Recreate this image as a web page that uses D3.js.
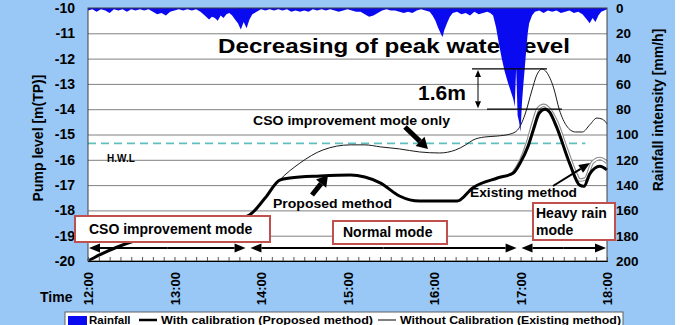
<!DOCTYPE html>
<html>
<head>
<meta charset="utf-8">
<script src="https://cdn.jsdelivr.net/npm/d3@7"></script>
<style>
  body { margin: 0; background: #99c8f6; }
  svg { display: block; font-family: "Liberation Sans", Arial, sans-serif; font-weight: bold; }
</style>
</head>
<body>
<div id="chart"></div>
<script>
// times are minutes after 12:00
const levelTicks = [-10, -11, -12, -13, -14, -15, -16, -17, -18, -19, -20];
const rainTicks = [0, 20, 40, 60, 80, 100, 120, 140, 160, 180, 200];
const timeTicks = [0, 60, 120, 180, 240, 300, 360];
const timeLabels = ["12:00", "13:00", "14:00", "15:00", "16:00", "17:00", "18:00"];

const rainMin = [
  0, 3, 6, 9, 12, 15, 18, 21, 24, 27,
  30, 33, 36, 39, 42, 45, 48, 51, 54, 57,
  60, 63, 66, 69, 72, 75, 78, 81, 84, 86,
  88, 90, 92, 94, 96, 98, 100, 102, 104, 106,
  108, 110, 112, 114, 117, 120, 123, 126, 129, 132,
  135, 138, 141, 144, 147, 150, 153, 156, 159, 162,
  165, 168, 171, 174, 177, 180, 183, 186, 189, 192,
  195, 198, 201, 204, 207, 210, 213, 216, 219, 222,
  225, 228, 231, 234, 237, 239, 241, 243, 245, 246,
  247, 249, 251, 253, 256, 259, 262, 265, 268, 271,
  274, 277, 279, 281, 283, 285, 287, 289, 291, 293,
  295, 296, 297, 298, 299, 300, 301, 302, 303, 304,
  305, 306, 308, 310, 313, 316, 319, 322, 325, 328,
  331, 334, 337, 340, 343, 346, 348, 350, 352, 354,
  356, 358, 360];
const rainValue = [
  2, 1, 3, 1, 2, 4, 1, 2, 1, 3,
  1, 2, 1, 2, 1, 3, 5, 4, 6, 3,
  2, 1, 2, 1, 2, 1, 3, 6, 9, 7,
  8, 10, 6, 8, 5, 4, 6, 9, 12, 17,
  11, 16, 9, 5, 3, 1, 2, 1, 2, 1,
  2, 1, 3, 2, 3, 2, 3, 1, 2, 1,
  2, 1, 2, 3, 2, 1, 2, 3, 3, 5,
  7, 6, 4, 2, 1, 2, 2, 3, 4, 3,
  4, 2, 1, 2, 3, 6, 10, 16, 21, 23,
  18, 12, 7, 4, 3, 5, 4, 6, 3, 5,
  4, 3, 4, 6, 15, 28, 40, 50, 58, 65,
  72, 78, 47, 85, 90, 98, 75, 60, 47, 33,
  20, 12, 6, 3, 2, 4, 2, 3, 2, 4,
  3, 2, 4, 3, 5, 9, 12, 8, 11, 6,
  3, 2, 1];

// with calibration (proposed method)
const proposedMin = [0, 8, 34, 78, 112, 123, 133, 140, 161, 182, 192, 203, 216, 230, 256, 267,
  284, 295, 300, 305, 309, 313, 317, 320, 325, 334, 341, 344, 348, 355, 360];
const proposedLevel = [-20, -19.76, -19.17, -18.7, -18.18, -17.5, -16.8, -16.72, -16.64, -16.6,
  -16.68, -16.92, -17.43, -17.63, -17.63, -17.1, -16.72, -16.52, -16.1, -15.5, -14.8, -14.15,
  -14.0, -14.1, -14.7, -16.13, -17.0, -17.05, -16.56, -16.25, -16.4];

// CSO improvement mode only
const csoMin = [0, 8, 34, 78, 112, 123, 133, 147, 163, 182, 192, 203, 216, 230, 244, 255, 262,
  267, 275, 284, 293, 298, 303, 308, 311, 315, 318, 323, 327, 332, 338, 343, 348, 353, 357, 360];
const csoLevel = [-20, -19.76, -19.17, -18.7, -18.18, -17.5, -16.8, -16.13, -15.61, -15.41,
  -15.41, -15.49, -15.57, -15.69, -15.73, -15.61, -15.41, -15.22, -15.1, -15.06, -14.98, -14.82,
  -14.23, -13.24, -12.69, -12.41, -12.53, -13.16, -14.03, -14.66, -14.9, -14.9, -14.62, -14.35,
  -14.4, -14.58];

// existing method (only the part that leaves the proposed line)
const existingMin = [295, 300, 305, 309, 312, 316, 320, 325, 332, 338, 341, 345, 350, 355, 360];
const existingLevel = [-16.52, -16.05, -15.3, -14.5, -14.0, -13.85, -14.0, -14.5, -15.6, -16.5,
  -16.8, -16.75, -16.1, -15.95, -16.1];

const hwl = -15.35;
const modeNames = ["CSO improvement mode", "Normal mode", "Heavy rain mode"];
const modeStart = [0, 112, 300];
const modeEnd = [110, 298, 360];
const legendLabels = ["Rainfall", "With calibration (Proposed method)", "Without Calibration (Existing method)"];

let width = 680, height = 325;
const plot = { left: 88, right: 607, top: 8, bottom: 261 };

const svg = d3.select("#chart")
  .append("svg")
  .attr("width", width)
  .attr("height", height)
  .attr("viewBox", [0, 0, width, height]);

const x = d3.scaleLinear().domain([0, 360]).range([plot.left, plot.right]);
const y = d3.scaleLinear().domain([-20, -10]).range([plot.bottom, plot.top]);
const yRain = d3.scaleLinear().domain([0, 200]).range([plot.top, plot.bottom]);

svg.append("rect").attr("width", width).attr("height", height).attr("fill", "#99c8f6");
svg.append("rect").attr("x", 675).attr("width", 5).attr("height", height).attr("fill", "#fff");

// plot background
svg.append("rect")
  .attr("x", plot.left).attr("y", plot.top)
  .attr("width", plot.right - plot.left).attr("height", plot.bottom - plot.top)
  .attr("fill", "#fff");

function styleAxis(g, size) {
  g.attr("font-family", null).attr("font-size", size).attr("font-weight", "bold");
  g.selectAll("text").attr("fill", "#000");
}

// left axis + grid
svg.append("g")
  .attr("transform", `translate(${plot.left},0)`)
  .call(d3.axisLeft(y).tickValues(levelTicks).tickFormat(d => String(d))
    .tickSize(-(plot.right - plot.left)).tickPadding(13))
  .call(g => g.select(".domain").remove())
  .call(g => g.selectAll(".tick line").attr("stroke", "#808080"))
  .call(g => styleAxis(g, 14));

// right axis (rainfall, reversed)
svg.append("g")
  .attr("transform", `translate(${plot.right},0)`)
  .call(d3.axisRight(yRain).tickValues(rainTicks).tickSize(0).tickPadding(9))
  .call(g => g.select(".domain").remove())
  .call(g => styleAxis(g, 13.5));

// big annotation text (rain is drawn over it)
svg.append("text")
  .attr("x", 218).attr("y", 53)
  .attr("font-size", 21)
  .attr("textLength", 352).attr("lengthAdjust", "spacingAndGlyphs")
  .text("Decreasing of peak water level");

// rainfall
const rain = rainMin.map((m, i) => ({ m: m, v: rainValue[i] }));
svg.append("path")
  .datum(rain)
  .attr("fill", "#0a0af0")
  .attr("d", d3.area().x(d => x(d.m)).y0(yRain(0)).y1(d => yRain(d.v)));

// H.W.L dashed line
svg.append("line")
  .attr("x1", plot.left).attr("x2", x(345))
  .attr("y1", y(hwl)).attr("y2", y(hwl))
  .attr("stroke", "#5fc0c0").attr("stroke-width", 1.6)
  .attr("stroke-dasharray", "8,5");
svg.append("text").attr("x", 107).attr("y", 162).attr("font-size", 10).text("H.W.L");

// water level lines
const line = d3.line().x(d => x(d.m)).y(d => y(d.v)).curve(d3.curveMonotoneX);
const existing = existingMin.map((m, i) => ({ m: m, v: existingLevel[i] }));
const cso = csoMin.map((m, i) => ({ m: m, v: csoLevel[i] }));
const proposed = proposedMin.map((m, i) => ({ m: m, v: proposedLevel[i] }));

svg.append("path").datum(existing).attr("fill", "none")
  .attr("stroke", "#8c8c8c").attr("stroke-width", 3.6).attr("d", line);
svg.append("path").datum(existing).attr("fill", "none")
  .attr("stroke", "#fff").attr("stroke-width", 1.4).attr("d", line);
svg.append("path").datum(cso).attr("fill", "none")
  .attr("stroke", "#1a1a1a").attr("stroke-width", 1).attr("d", line);
svg.append("path").datum(proposed).attr("fill", "none")
  .attr("stroke", "#000").attr("stroke-width", 3).attr("stroke-linejoin", "round").attr("d", line);

// plot frame
svg.append("rect")
  .attr("x", plot.left).attr("y", plot.top)
  .attr("width", plot.right - plot.left).attr("height", plot.bottom - plot.top)
  .attr("fill", "none").attr("stroke", "#404040").attr("stroke-width", 1);

// bottom axis: small inner ticks + rotated hour labels
svg.append("g")
  .attr("transform", `translate(0,${plot.bottom})`)
  .call(d3.axisBottom(x).tickValues(d3.range(0, 361, 7.5)).tickSize(-4).tickFormat(""))
  .call(g => g.selectAll(".tick line").attr("stroke", "#555"))
  .call(g => g.select(".domain").attr("stroke", "#000"));

svg.append("g")
  .attr("transform", `translate(0,${plot.bottom})`)
  .call(d3.axisBottom(x).tickValues(timeTicks).tickSize(0).tickFormat((d, i) => timeLabels[i]))
  .call(g => g.select(".domain").remove())
  .call(g => styleAxis(g, 13))
  .call(g => g.selectAll("text")
    .attr("transform", "rotate(-90)")
    .attr("x", -11).attr("y", 0).attr("dy", "0.36em")
    .attr("text-anchor", "end"));

svg.append("text").attr("x", 40).attr("y", 302).attr("font-size", 14).text("Time");

// axis titles
svg.append("text")
  .attr("transform", `translate(43,138) rotate(-90)`)
  .attr("text-anchor", "middle").attr("font-size", 14)
  .text("Pump level [m(TP)]");
svg.append("text")
  .attr("transform", `translate(663,110) rotate(-90)`)
  .attr("text-anchor", "middle").attr("font-size", 14)
  .text("Rainfall intensity [mm/h]");

// arrow helper: line with filled triangle head at (x2, y2)
function arrow(x1, y1, x2, y2, w, headLen, headW) {
  const a = Math.atan2(y2 - y1, x2 - x1);
  const bx = x2 - headLen * Math.cos(a), by = y2 - headLen * Math.sin(a);
  const px = headW / 2 * Math.sin(a), py = headW / 2 * Math.cos(a);
  svg.append("line")
    .attr("x1", x1).attr("y1", y1).attr("x2", bx).attr("y2", by)
    .attr("stroke", "#000").attr("stroke-width", w);
  svg.append("path")
    .attr("d", `M${x2},${y2}L${bx + px},${by - py}L${bx - px},${by + py}Z`)
    .attr("fill", "#000");
}

// 1.6m difference bracket, from the two peaks
const csoPeak = d3.max(csoLevel), proposedPeak = d3.max(proposedLevel);
svg.append("line").attr("x1", 472).attr("x2", 547)
  .attr("y1", y(csoPeak)).attr("y2", y(csoPeak)).attr("stroke", "#000").attr("stroke-width", 1.2);
svg.append("line").attr("x1", 487).attr("x2", 562)
  .attr("y1", y(proposedPeak)).attr("y2", y(proposedPeak)).attr("stroke", "#000").attr("stroke-width", 1.2);
const midY = (y(csoPeak) + y(proposedPeak)) / 2;
arrow(478, midY, 478, y(csoPeak) + 1, 1, 7, 6);
arrow(478, midY, 478, y(proposedPeak) - 1, 1, 7, 6);
svg.append("text").attr("x", 418).attr("y", 100).attr("font-size", 21).text("1.6m");

// callouts
svg.append("text").attr("x", 253).attr("y", 125).attr("font-size", 13.5)
  .attr("textLength", 197).attr("lengthAdjust", "spacingAndGlyphs")
  .text("CSO improvement mode only");
arrow(405, 127, 428, 149, 5, 11, 13);

svg.append("text").attr("x", 273).attr("y", 208).attr("font-size", 13.5)
  .attr("textLength", 119).attr("lengthAdjust", "spacingAndGlyphs")
  .text("Proposed method");
arrow(312, 195, 328, 175, 5, 11, 13);

svg.append("text").attr("x", 470).attr("y", 197).attr("font-size", 13.5)
  .attr("textLength", 107).attr("lengthAdjust", "spacingAndGlyphs")
  .text("Existing method");
arrow(553, 186, 590, 163, 2, 11, 9);

// operation modes: double arrows
const modeY = 248;
modeNames.forEach((name, i) => {
  const x1 = x(modeStart[i]) + 1, x2 = x(modeEnd[i]) - 1, mid = (x1 + x2) / 2;
  arrow(mid, modeY, x2, modeY, 2, 11, 9);
  arrow(mid, modeY, x1, modeY, 2, 11, 9);
});

// mode boxes
const boxes = [
  { x: 75, y: 216, w: 195, h: 26, lines: [modeNames[0]], tx: 89, ty: [234] },
  { x: 333, y: 221, w: 114, h: 23, lines: [modeNames[1]], tx: 343, ty: [237] },
  { x: 533, y: 203, w: 82, h: 37, lines: ["Heavy rain", "mode"], tx: 536, ty: [218, 235] }
];
boxes.forEach(b => {
  svg.append("rect").attr("x", b.x).attr("y", b.y).attr("width", b.w).attr("height", b.h)
    .attr("fill", "#fff").attr("stroke", "#c0504d").attr("stroke-width", 2);
  b.lines.forEach((t, j) => {
    svg.append("text").attr("x", b.tx).attr("y", b.ty[j]).attr("font-size", 14).text(t);
  });
});

// legend (runs off the bottom edge, text kept inside)
const legend = svg.append("g");
legend.append("rect").attr("x", 65).attr("y", 312).attr("width", 558).attr("height", 20)
  .attr("fill", "#fff").attr("stroke", "#606060");
legend.append("rect").attr("x", 68).attr("y", 316).attr("width", 19).attr("height", 10).attr("fill", "#0a0af0");
legend.append("text").attr("x", 89).attr("y", 323.5).attr("font-size", 11.5).text(legendLabels[0]);
legend.append("line").attr("x1", 139).attr("x2", 157).attr("y1", 320).attr("y2", 320)
  .attr("stroke", "#000").attr("stroke-width", 2.5);
legend.append("text").attr("x", 161).attr("y", 323.5).attr("font-size", 11.5)
  .attr("textLength", 212).attr("lengthAdjust", "spacingAndGlyphs").text(legendLabels[1]);
legend.append("line").attr("x1", 378).attr("x2", 396).attr("y1", 320).attr("y2", 320)
  .attr("stroke", "#000").attr("stroke-width", 1);
legend.append("text").attr("x", 400).attr("y", 323.5).attr("font-size", 11.5)
  .attr("textLength", 221).attr("lengthAdjust", "spacingAndGlyphs").text(legendLabels[2]);
</script>
</body>
</html>
